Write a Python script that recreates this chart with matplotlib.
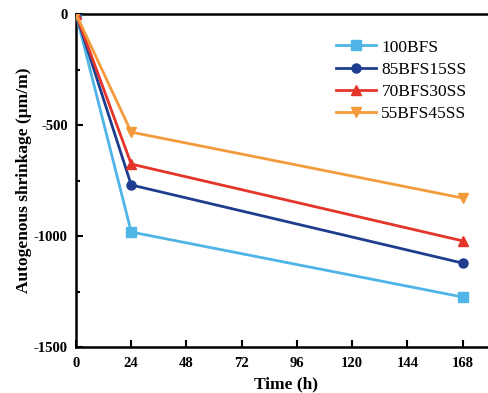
import matplotlib
matplotlib.use("Agg")
import matplotlib.pyplot as plt
from matplotlib.ticker import MultipleLocator

time_h = [0, 24, 168]
labels = ["100BFS", "85BFS15SS", "70BFS30SS", "55BFS45SS"]
s100 = [0, -982, -1275]
s85 = [0, -770, -1122]
s70 = [0, -676, -1022]
s55 = [0, -532, -829]
series = [s100, s85, s70, s55]
colors = ["#4FB4E6", "#1E3D8E", "#E5352A", "#F39B3B"]
markers = ["s", "o", "^", "v"]
xticks = [0, 24, 48, 72, 96, 120, 144, 168]
yticks = [0, -500, -1000, -1500]

plt.rcParams['font.family'] = ['Liberation Serif', 'DejaVu Serif']
plt.rcParams['axes.unicode_minus'] = False
fig = plt.figure(figsize=(4.89, 3.93), dpi=100)
ax = fig.add_axes([76/489, 46/393, 420/489, 333/393])

for vals, c, m, lab in zip(series, colors, markers, labels):
    ax.plot(time_h, vals, color=c, marker=m, markersize=6.5, linewidth=2, label=lab, zorder=3)

ax.set_xlim(0, 182.5)
ax.set_ylim(-1500, 0)
ax.set_xticks(xticks)
ax.set_yticks(yticks)
ax.yaxis.set_minor_locator(MultipleLocator(250))
ax.tick_params(which='both', direction='in', width=1.5, labelsize=10.5)
ax.tick_params(which='major', length=5)
ax.tick_params(which='minor', length=3)
ax.tick_params(axis='y', pad=6)
ax.tick_params(axis='x', pad=7)
for lbl in ax.get_xticklabels() + ax.get_yticklabels():
    lbl.set_fontweight('bold')
for sp in ax.spines.values():
    sp.set_linewidth(1.8)
ax.spines['right'].set_visible(False)
ax.set_xlabel("Time (h)", fontsize=12.5, fontweight='bold', labelpad=5)
ax.set_ylabel("Autogenous shrinkage (μm/m)", fontsize=12.5, fontweight='bold', labelpad=1)
leg = ax.legend(loc='upper right', bbox_to_anchor=(0.955, 0.955), frameon=False, fontsize=12.5,
                handlelength=2.3, handletextpad=0.3, labelspacing=0.35, borderaxespad=0.2)
fig.savefig("out.png", dpi=100)
